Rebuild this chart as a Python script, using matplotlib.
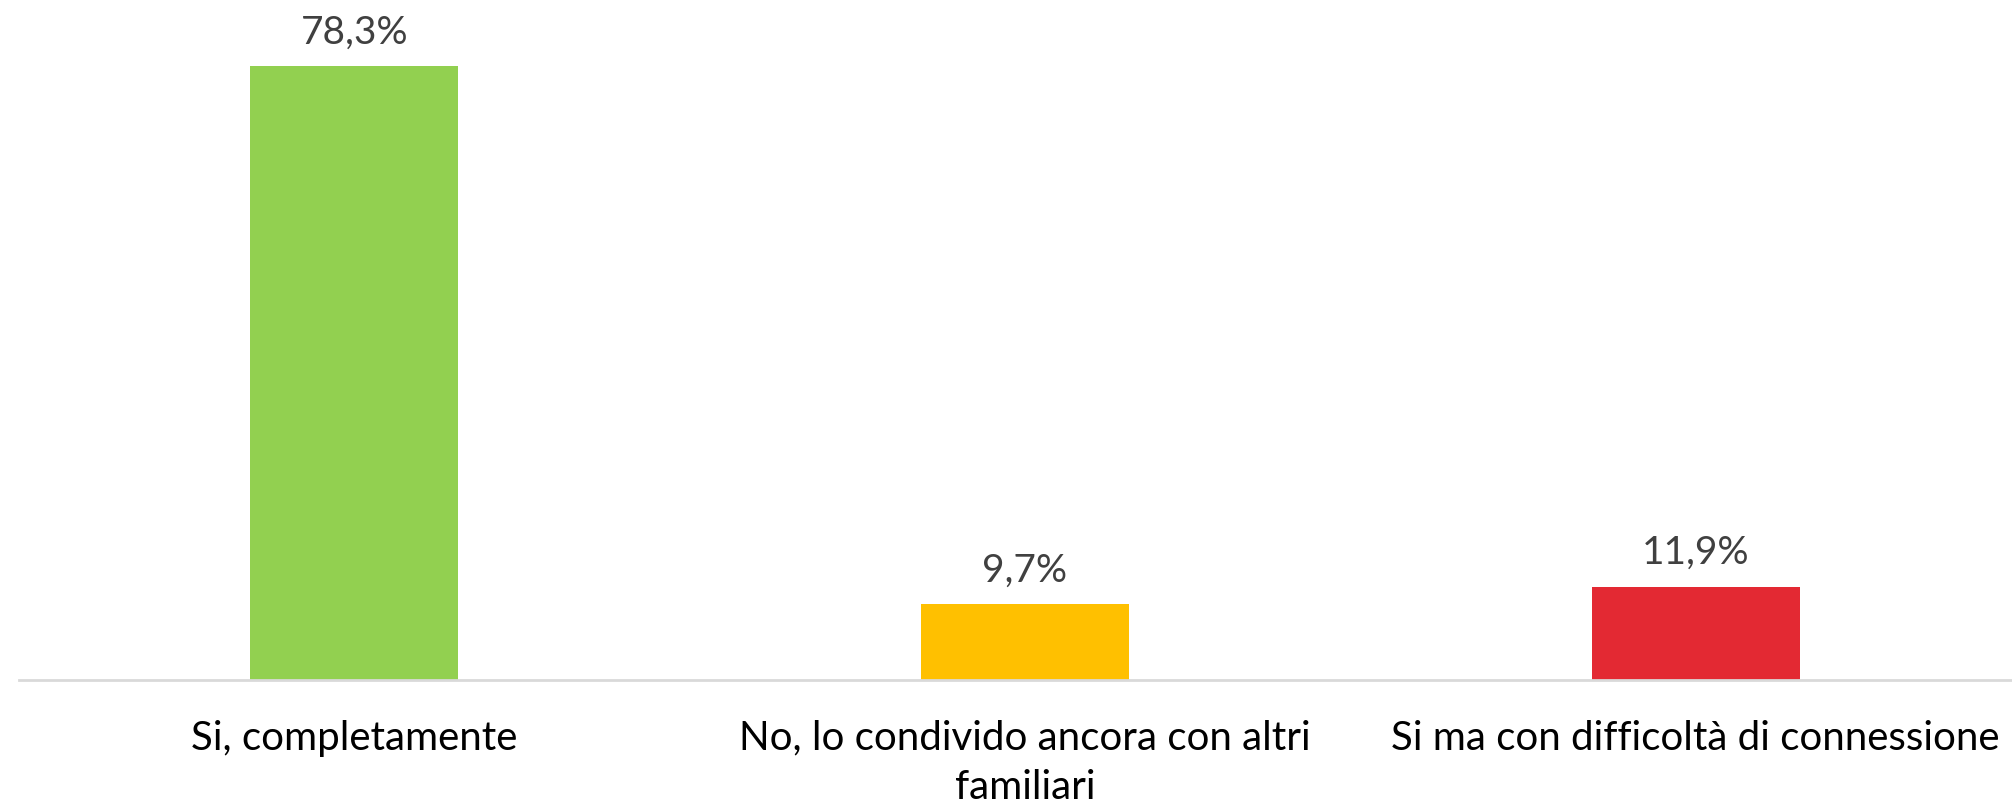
import matplotlib.pyplot as plt

categories = ["Si, completamente",
              "No, lo condivido ancora con altri\nfamiliari",
              "Si ma con difficoltà di connessione"]
values = [78.3, 9.7, 11.9]
value_labels = ["78,3%", "9,7%", "11,9%"]
colors = ["#92D050", "#FFC000", "#E32933"]

plt.rcParams['font.family'] = ['Lato', 'DejaVu Sans']

fig = plt.figure(figsize=(20.12, 8.03), dpi=100)
ax = fig.add_axes([19 / 2012, 122 / 803, 2012 / 2012, 627 / 803])

x = range(len(values))
bars = ax.bar(x, values, width=0.31, color=colors)
for b, lab in zip(bars, value_labels):
    ax.annotate(lab, (b.get_x() + b.get_width() / 2, b.get_height()),
                xytext=(0, 17), textcoords="offset points",
                ha="center", va="baseline", fontsize=28, color="#404040")

ax.set_xlim(-0.5, 2.5)
ax.set_ylim(0, 80)
ax.set_xticks(list(x))
ax.set_xticklabels(categories, fontsize=29, color="black", linespacing=1.4)
ax.tick_params(axis="x", length=0, pad=28)
ax.set_yticks([])
for s in ["top", "right", "left"]:
    ax.spines[s].set_visible(False)
ax.spines["bottom"].set_color("#D9D9D9")
ax.spines["bottom"].set_linewidth(2)

fig.savefig("out.png", dpi=100)
